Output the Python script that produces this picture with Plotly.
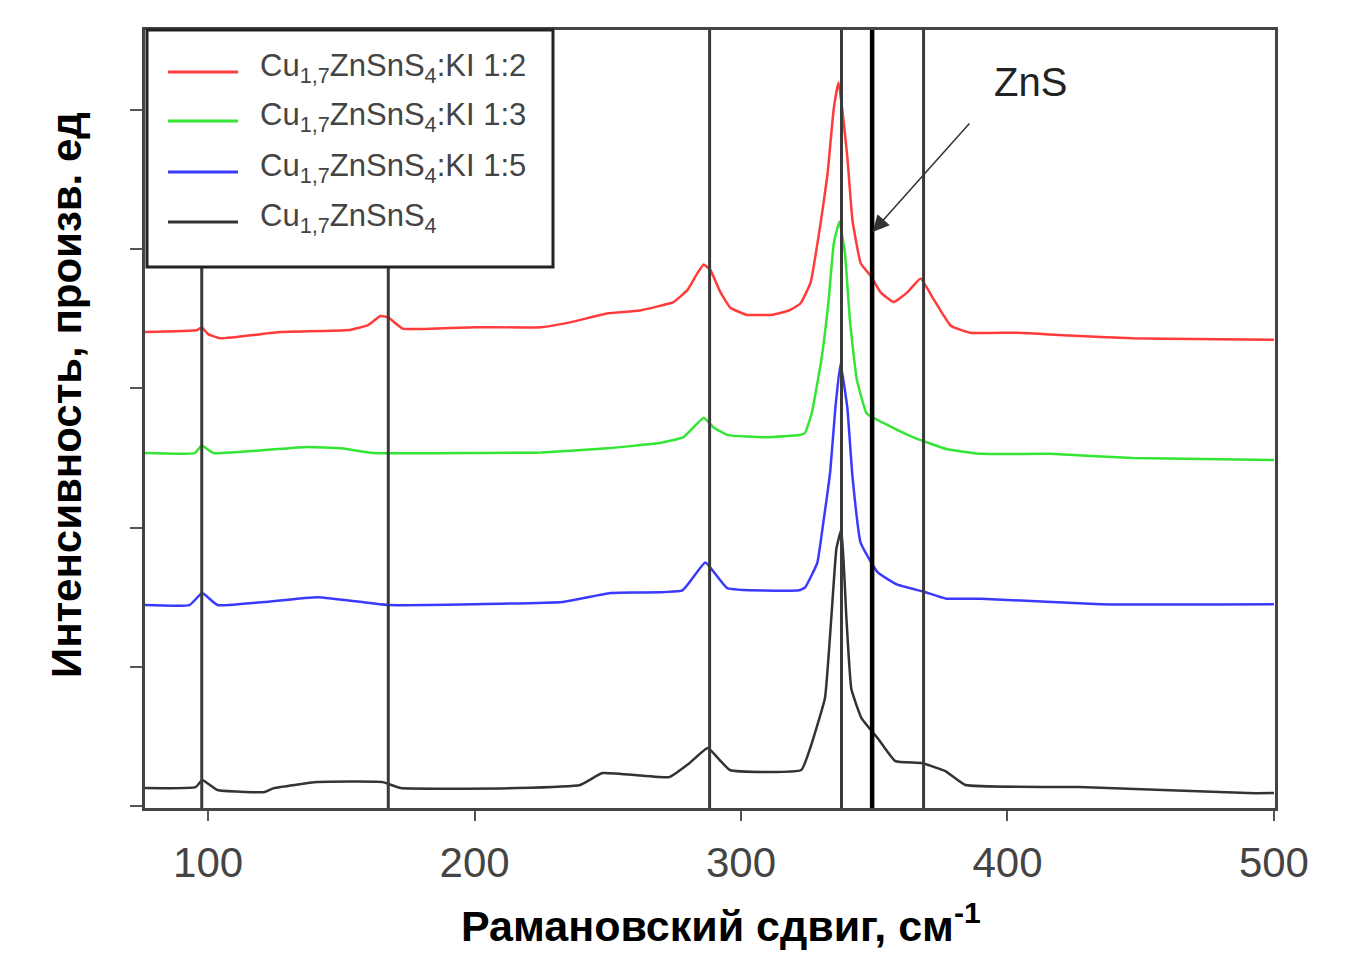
import plotly.graph_objects as go

# ---------------- data (Raman shift, cm^-1 ; intensity, arb. units) ----------------
red_x = [76, 96, 97.6, 100, 104.5, 127, 153, 160, 164.6, 167.6, 173, 200, 225, 237, 250, 262,
         274.6, 280, 283.7, 286, 288.5, 292.3, 296, 302, 312, 318, 322.3, 326.1, 329.8, 332.4,
         334.8, 336.6, 339.9, 341.8, 344.9, 348.6, 352.4, 357.3, 362.4, 367.4, 372.3, 378.7,
         386, 404, 423, 447, 470, 500]
red_y = [3.405, 3.42, 3.44, 3.39, 3.36, 3.405, 3.42, 3.455, 3.52, 3.51, 3.43, 3.44, 3.44, 3.48,
         3.54, 3.56, 3.62, 3.71, 3.83, 3.89, 3.85, 3.69, 3.58, 3.53, 3.53, 3.56, 3.61, 3.76, 4.18,
         4.53, 5.01, 5.20, 4.66, 4.21, 3.90, 3.81, 3.69, 3.62, 3.69, 3.79, 3.64, 3.45, 3.40, 3.40,
         3.38, 3.36, 3.355, 3.35]

green_x = [76, 95, 97.6, 102, 137, 150, 162, 200, 225, 250, 270, 278.4, 286, 289.7, 295, 310,
           322, 324, 326.5, 330.1, 332.8, 334.8, 336.9, 339.0, 340.9, 343.4, 347.2, 354.7, 364.5,
           377, 390, 416, 447, 500]
green_y = [2.536, 2.536, 2.59, 2.536, 2.58, 2.57, 2.536, 2.536, 2.54, 2.57, 2.61, 2.65, 2.79,
           2.72, 2.665, 2.65, 2.665, 2.68, 2.82, 3.20, 3.62, 4.04, 4.20, 3.97, 3.48, 3.07, 2.82,
           2.74, 2.65, 2.565, 2.53, 2.53, 2.50, 2.486]

blue_x = [76, 93, 97.8, 103.5, 121, 141, 161, 168, 233, 251, 278, 286.6, 294.8, 321.7, 324,
          328.6, 330.8, 333.5, 335.4, 337.3, 339.9, 341.8, 344.9, 351.2, 358.7, 368.6, 377, 390,
          435, 500]
blue_y = [1.444, 1.444, 1.53, 1.444, 1.466, 1.50, 1.458, 1.444, 1.466, 1.53, 1.55, 1.75, 1.566,
          1.55, 1.57, 1.746, 2.026, 2.41, 2.86, 3.18, 2.86, 2.37, 1.89, 1.68, 1.59, 1.54, 1.49,
          1.49, 1.45, 1.45]

black_x = [76, 95.3, 97.8, 103.5, 121, 124.7, 141, 165.5, 172.3, 216, 239.6, 248, 273, 280.7,
           287.5, 295.8, 322.6, 326.1, 331.5, 333.8, 335.8, 337.7, 339.5, 341.4, 345.2, 351.6,
           357.9, 367.8, 376.7, 384.2, 427, 490, 500]
black_y = [0.129, 0.136, 0.187, 0.115, 0.10, 0.129, 0.172, 0.172, 0.129, 0.129, 0.151, 0.237,
           0.208, 0.309, 0.417, 0.259, 0.259, 0.424, 0.776, 1.33, 1.85, 1.99, 1.365, 0.84, 0.632,
           0.48, 0.323, 0.309, 0.251, 0.151, 0.136, 0.093, 0.093]

series_names = [
    "Cu<sub>1,7</sub>ZnSnS<sub>4</sub>:KI 1:2",
    "Cu<sub>1,7</sub>ZnSnS<sub>4</sub>:KI 1:3",
    "Cu<sub>1,7</sub>ZnSnS<sub>4</sub>:KI 1:5",
    "Cu<sub>1,7</sub>ZnSnS<sub>4</sub>",
]
series_colors = ["#ff3b3b", "#33e633", "#3a3aff", "#333333"]

# reference lines (cm^-1)
ref_lines = [97.6, 167.6, 288.2, 337.7, 368.5]
zns_line = 349.2
zns_label = "ZnS"

x_ticks = [100, 200, 300, 400, 500]
y_ticks = [0, 1, 2, 3, 4, 5]

FONT = "Liberation Sans, Arial, sans-serif"

# plot-area geometry helpers (page pixels -> paper fractions); page has an 8px body margin
PL, PR, PT, PB = 145, 1275, 30, 808
def px(xp):
    return (xp - PL) / (PR - PL)
def py(yp):
    return (PB - yp) / (PB - PT)

fig = go.Figure()
for xs, ys, name, col in zip([red_x, green_x, blue_x, black_x],
                             [red_y, green_y, blue_y, black_y],
                             series_names, series_colors):
    fig.add_trace(go.Scatter(x=xs, y=ys, mode="lines", name=name, showlegend=False,
                             line=dict(color=col, width=2.5, shape="spline", smoothing=0.35)))

shapes = []
for xv in ref_lines:
    shapes.append(dict(type="line", xref="x", yref="paper", x0=xv, x1=xv, y0=0, y1=1,
                       line=dict(color="#3a3a3a", width=3), layer="above"))
shapes.append(dict(type="line", xref="x", yref="paper", x0=zns_line, x1=zns_line, y0=0, y1=1,
                   line=dict(color="#000000", width=4.5), layer="above"))

annotations = []

# legend (manual, to match sample-line length and box size)
shapes.append(dict(type="rect", xref="paper", yref="paper", x0=px(147), x1=px(553),
                   y0=py(267), y1=py(30), line=dict(color="#222222", width=3),
                   fillcolor="white", layer="above"))
leg_y = [72, 121, 172, 222]
for name, col, ly in zip(series_names, series_colors, leg_y):
    shapes.append(dict(type="line", xref="paper", yref="paper", x0=px(168), x1=px(238),
                       y0=py(ly), y1=py(ly), line=dict(color=col, width=3), layer="above"))
    annotations.append(dict(text=name, xref="paper", yref="paper", x=px(258), y=py(ly - 4),
                            xanchor="left", yanchor="middle", showarrow=False,
                            font=dict(family=FONT, size=31, color="#444444")))

annotations += [
    dict(text=zns_label, xref="x", yref="y", x=408.7, y=5.20, showarrow=False,
         xanchor="center", yanchor="middle",
         font=dict(family=FONT, size=40, color="#222222")),
    dict(text="", x=349.4, y=4.124, xref="x", yref="y", ax=386.2, ay=4.914,
         axref="x", ayref="y", showarrow=True, arrowhead=2, arrowsize=2.2, arrowwidth=1.5,
         arrowcolor="#333333"),
    dict(text="<b>Рамановский сдвиг, см<sup>-1</sup></b>", xref="paper", yref="paper",
         x=0.51, y=0, yanchor="bottom", yshift=-144, showarrow=False,
         font=dict(family=FONT, size=43, color="#000000")),
    dict(text="<b>Интенсивность, произв. ед</b>", xref="paper", yref="paper",
         x=0, y=0.5, xanchor="center", yanchor="middle", xshift=-79, yshift=24,
         textangle=-90, showarrow=False, font=dict(family=FONT, size=42, color="#000000")),
]

fig.update_layout(
    width=1341, height=946,
    margin=dict(l=137, r=74, t=22, b=146),
    paper_bgcolor="white", plot_bgcolor="white",
    font=dict(family=FONT, color="#333333"),
    shapes=shapes, annotations=annotations,
    showlegend=False,
    xaxis=dict(range=[76.3, 500.4], tickvals=x_ticks, ticks="outside", ticklen=10,
               tickwidth=2, tickcolor="#555555", showline=True, mirror=True, linewidth=3,
               linecolor="#444444", showgrid=False, zeroline=False, ticklabelstandoff=6,
               tickfont=dict(family=FONT, size=42, color="#444444")),
    yaxis=dict(range=[-0.014, 5.575], tickvals=y_ticks, ticks="outside", ticklen=12,
               tickwidth=2, tickcolor="#555555", showticklabels=False, showline=True,
               mirror=True, linewidth=3, linecolor="#444444", showgrid=False, zeroline=False),
)

fig.write_html("out.html")
